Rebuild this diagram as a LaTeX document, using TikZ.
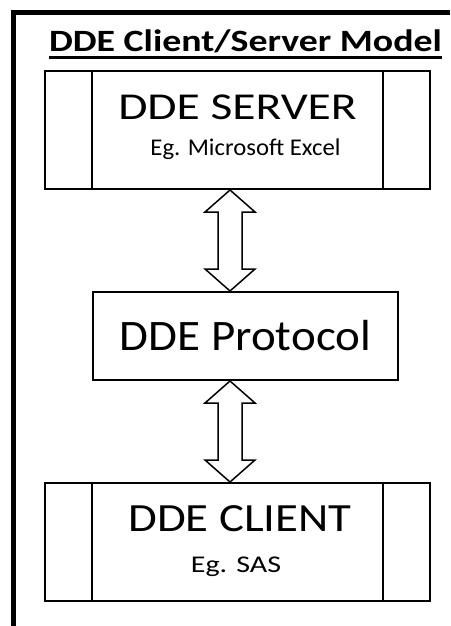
\documentclass[tikz,border=0pt]{standalone}
\usepackage{fontspec}
\setmainfont{Carlito}
\usepackage{graphicx}
\usetikzlibrary{calc,positioning}

% font size, horizontal stretch, text
\newcommand{\wtext}[3]{{\fontsize{#1}{#1}\selectfont\scalebox{#2}[1]{#3}}}
% hollow double arrow between two boxes, on the arrow axis
\newcommand{\dblarrow}[2]{%
  \draw[dbl arrow] (#1 -| axis) -- ++(25,22) -- ++(-13,0)
    -- ($(#2 -| axis)+(12,-22)$) -- ++(13,0) -- (#2 -| axis)
    -- ++(-25,-22) -- ++(13,0) -- ($(#1 -| axis)+(-12,22)$)
    -- ++(-13,0) -- cycle;}

\begin{document}
\begin{tikzpicture}[x=1pt,y=-1pt,
                    proc box/.style={draw,line width=2pt,minimum width=385pt,minimum height=118pt,inner sep=0pt},
                    mid box/.style={draw,line width=2pt,minimum width=305pt,minimum height=88pt,inner sep=0pt},
                    box text/.style={anchor=base,inner sep=0pt},
                    dbl arrow/.style={draw,line width=1.5pt,line join=miter}]

  \useasboundingbox (0,0) rectangle (450,626);
  \draw[line width=5pt] (450,12.5) -- (13.5,12.5) -- (13.5,626);

  \node[box text,font=\bfseries] (title) at (245.5,52) {\wtext{31}{1.22}{DDE Client/Server Model}};
  \draw[line width=3pt] ($(title.base west)+(0,5.5)$) -- ($(title.base east)+(0,5.5)$);

  \node[proc box] (srv) at (237.5,130) {};
  \node[mid box] (proto) at (245.5,336) {};
  \node[proc box] (cli) at (237.5,542) {};
  \foreach \b in {srv,cli} {
    \draw[line width=2pt] ($(\b.north west)+(48,0)$) -- ($(\b.south west)+(48,0)$);
    \draw[line width=2pt] ($(\b.north east)+(-48,0)$) -- ($(\b.south east)+(-48,0)$);
  }

  \node[box text] (srvname) at ($(srv.center)+(0,-10.7)$) {\wtext{38}{1.25}{DDE SERVER}};
  \node[box text] (srvex) at ($(srv.center)+(8,25.7)$) {\wtext{24}{1.03}{Eg. Microsoft Excel}};
  \node[box text] (protoname) at ($(proto.center)+(0,14)$) {\wtext{43.5}{1.08}{DDE Protocol}};
  \node[box text] (cliname) at ($(cli.center)+(2.5,-11)$) {\wtext{40}{1.17}{DDE CLIENT}};
  \node[box text] (cliex) at ($(cli.center)+(-1.5,30.3)$) {\wtext{24}{1.25}{Eg. SAS}};

  \coordinate (axis) at (230,0);
  \dblarrow{srv.south}{proto.north}
  \dblarrow{proto.south}{cli.north}

\end{tikzpicture}
\end{document}
